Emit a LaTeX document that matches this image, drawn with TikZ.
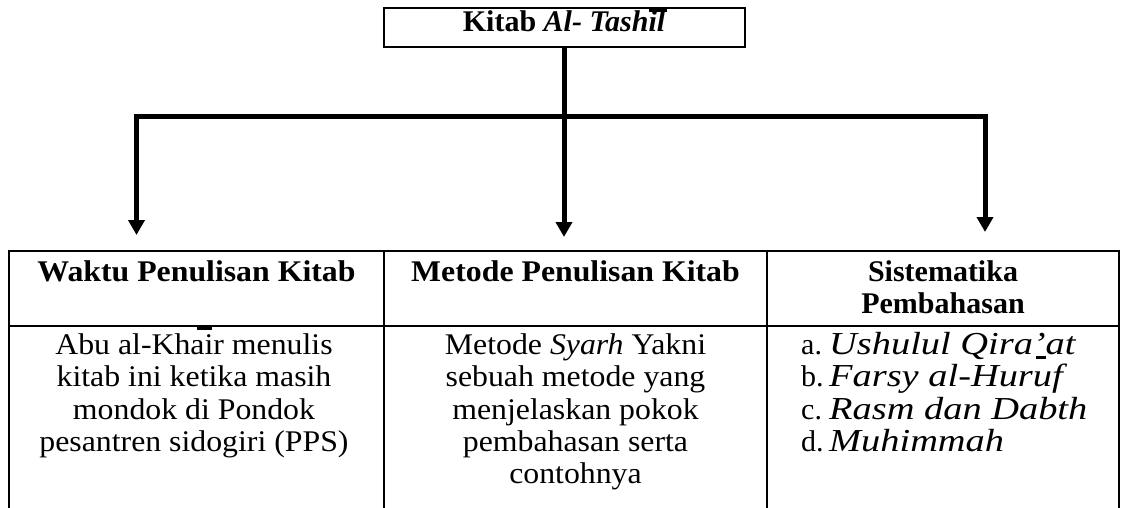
\documentclass[tikz,border=0pt]{standalone}
\usepackage{fontspec}
\setmainfont{Liberation Serif}
\newfontfamily\widefont{Liberation Serif}[FakeStretch=1.06]
\newfontfamily\listfont{Liberation Serif}[FakeStretch=1.2]
\usetikzlibrary{arrows.meta}
\begin{document}
\begin{tikzpicture}[x=1pt,y=-1pt,
  txt/.style={inner sep=0pt, font=\fontsize{30}{32.2}\selectfont},
  cell/.style={txt, align=center, anchor=north},
  conn/.style={line width=5pt, line join=miter},
  tip/.style={-{Triangle[width=16pt,length=15pt]}},
  rule/.style={line width=2.2pt},
  macronbar/.style={line width=2.6pt}]
\useasboundingbox (0,0) rectangle (1127,508);

% title box
\node[draw, line width=2.3pt, minimum width=361pt, minimum height=39pt, inner sep=0pt] (top) at (564.5,27.5) {};
\node[txt, anchor=base] (title) at (564,32) {\textbf{Kitab \textit{Al- Tashil}}};
\draw[macronbar] (649,10.5) -- (667,10.5);

% branch points and arrow ends
\coordinate (jL) at (136.5,117);
\coordinate (jR) at (985,117);
\coordinate (tipL) at (136.5,235);
\coordinate (tipM) at (564,237);
\coordinate (tipR) at (985,232);

\draw[conn, tip] (top.south -| tipM) -- (tipM);
\draw[conn, {Triangle[width=16pt,length=15pt]}-{Triangle[width=16pt,length=15pt]}] (tipL) -- (jL) -- (jR) -- (tipR);

% table grid
\draw[rule] (9,508) -- (9,251) -- (1119,251) -- (1119,508);
\draw[rule] (9,326) -- (1119,326);
\draw[rule] (384,251) -- (384,508);
\draw[rule] (767,251) -- (767,508);

% header row
\node[txt, anchor=base] (h1) at (196.5,281) {\widefont\bfseries Waktu Penulisan Kitab};
\node[txt, anchor=base] (h2) at (575.5,281) {\widefont\bfseries Metode Penulisan Kitab};
\node[cell] (h3) at (943,258.5) {\strut\textbf{Sistematika}\\\textbf{Pembahasan}};

% body row
\node[cell, font=\fontsize{30}{32.2}\selectfont\widefont] (b1) at (194,332) {\strut Abu al-Khair menulis\\kitab ini ketika masih\\mondok di Pondok\\pesantren sidogiri (PPS)};
\draw[macronbar] (197,328.5) -- (212,328.5);
\node[cell, font=\fontsize{30}{32.2}\selectfont\widefont] (b2) at (575.5,332) {\strut Metode \textit{Syarh} Yakni\\sebuah metode yang\\menjelaskan pokok\\pembahasan serta\\contohnya};
\node[txt, align=left, anchor=north west] (b3) at (801,332) {\strut\makebox[28pt][l]{a.}{\listfont\fontsize{32}{32.2}\selectfont\itshape Ushulul Qira’at}\\
  \makebox[28pt][l]{b.}{\listfont\fontsize{32}{32.2}\selectfont\itshape Farsy al-Huruf}\\
  \makebox[28pt][l]{c.}{\listfont\fontsize{32}{32.2}\selectfont\itshape Rasm dan Dabth}\\
  \makebox[28pt][l]{d.}{\listfont\fontsize{32}{32.2}\selectfont\itshape Muhimmah}};
\draw[macronbar] (1036,357.5) -- (1046,357.5);
\end{tikzpicture}
\end{document}
